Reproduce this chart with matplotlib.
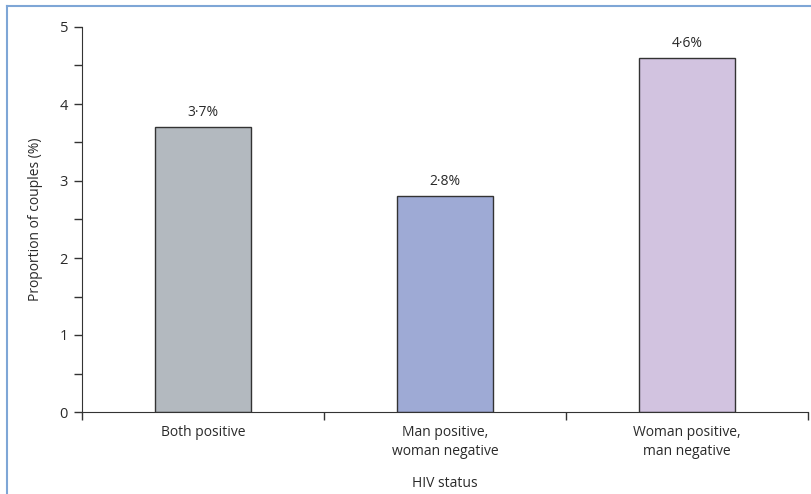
import matplotlib.pyplot as plt
from matplotlib.lines import Line2D

# data
categories = ["Both positive", "Man positive,\nwoman negative", "Woman positive,\nman negative"]
proportions = [3.7, 2.8, 4.6]
value_labels = ["3·7%", "2·8%", "4·6%"]
bar_colors = ["#b3b9bf", "#9eaad5", "#d2c3e0"]

plt.rcParams['font.family'] = ['Open Sans', 'DejaVu Sans']
plt.rcParams['font.size'] = 10

text_color = "#2a2a2a"

fig = plt.figure(figsize=(8.12, 4.94), dpi=100)
ax = fig.add_axes([82 / 812, 1 - 412 / 494, 726 / 812, 385 / 494])

xpos = list(range(len(categories)))
ax.bar(xpos, proportions, width=0.4, color=bar_colors, edgecolor="#333333", linewidth=1.0)

# value labels above bars
for x, v, lab in zip(xpos, proportions, value_labels):
    ax.text(x, v + 0.09, lab, ha="center", va="bottom", fontsize=10, color=text_color)

ax.set_xlim(-0.5, 2.5)
ax.set_ylim(0, 5)

# y ticks with half-unit minor ticks
ax.set_yticks([0, 1, 2, 3, 4, 5])
ax.set_yticks([0.5, 1.5, 2.5, 3.5, 4.5], minor=True)
ax.tick_params(axis="y", which="both", direction="out", length=6, width=1, color="#333333",
               labelsize=10.5, labelcolor=text_color, pad=4)

# x ticks at category boundaries, labels at centres
ax.set_xticks([-0.5, 0.5, 1.5, 2.5])
ax.set_xticklabels([])
ax.set_xticks(xpos, minor=True)
ax.set_xticklabels(categories, minor=True, linespacing=1.45)
ax.tick_params(axis="x", which="major", direction="out", length=6, width=1, color="#333333")
ax.tick_params(axis="x", which="minor", length=0, pad=9, labelsize=10, labelcolor=text_color)

ax.spines["top"].set_visible(False)
ax.spines["right"].set_visible(False)
ax.spines["left"].set_color("#333333")
ax.spines["bottom"].set_color("#333333")

ax.set_ylabel("Proportion of couples (%)", fontsize=10, color=text_color, labelpad=12)
ax.set_xlabel("HIV status", fontsize=10, color=text_color, labelpad=12)

# light blue panel frame on top and left
frame_color = "#7ea6d6"
fig.add_artist(Line2D([7 / 812, 7 / 812], [0, 1 - 6.5 / 494], color=frame_color, lw=1.5,
                      transform=fig.transFigure))
fig.add_artist(Line2D([7 / 812, 1], [1 - 6.5 / 494, 1 - 6.5 / 494], color=frame_color, lw=1.5,
                      transform=fig.transFigure))

fig.savefig("out.png", dpi=100)
